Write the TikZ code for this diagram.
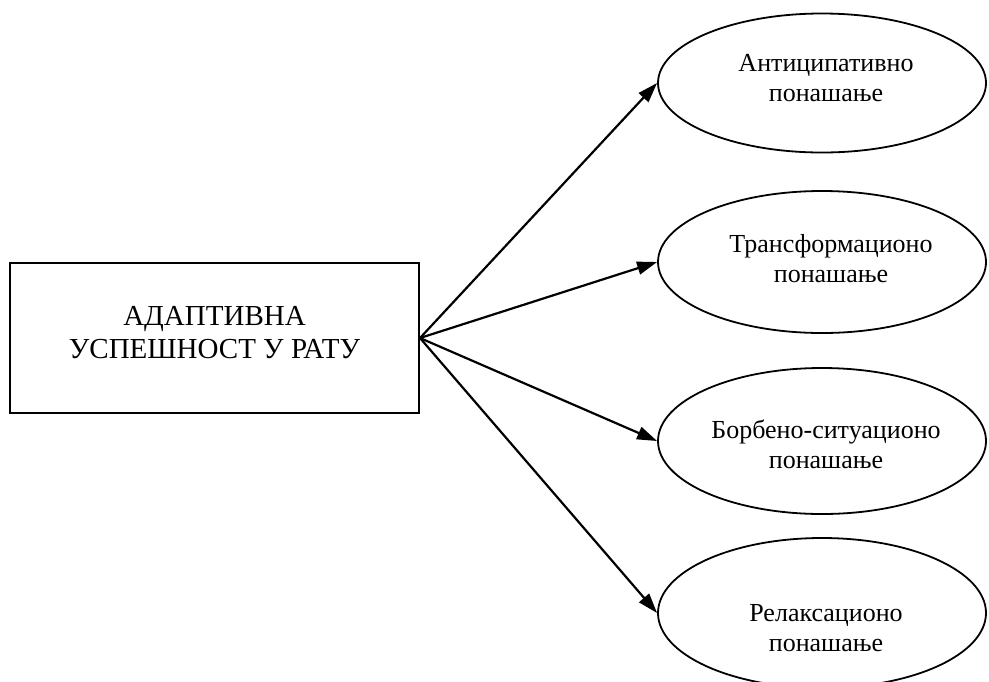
\documentclass[tikz,border=0pt]{standalone}
\usepackage{fontspec}
\setmainfont{Liberation Serif}
\usetikzlibrary{shapes.geometric,arrows.meta}
\begin{document}
\begin{tikzpicture}[x=0.5pt,y=-0.5pt,
    outcome/.style={draw,ellipse,line width=0.9pt,inner sep=0pt,minimum width=164pt},
    outtext/.style={align=center,font=\fontsize{13}{15}\selectfont},
    link/.style={line width=1.1pt,-{Triangle[length=10pt,width=6.5pt]}}]
  \useasboundingbox (0,0) rectangle (989,681);

  % central box
  \node[draw,line width=1pt,minimum width=204.5pt,minimum height=75pt,inner sep=0pt] (success) at (214.5,338) {};
  \node[align=center,font=\fontsize{14.5}{16.5}\selectfont] (successtext) at (214.5,333) {АДАПТИВНА\\УСПЕШНОСТ У РАТУ};

  % outcomes
  \node[outcome,minimum height=69.5pt] (anticip) at (822,83) {};
  \node[outcome,minimum height=71pt] (transform) at (822,262) {};
  \node[outcome,minimum height=73pt] (combat) at (822,441) {};
  \node[outcome,minimum height=75pt] (relax) at (822,613) {};

  \node[outtext] (anticiptext) at (826,78) {Антиципативно\\понашање};
  \node[outtext] (transformtext) at (831,259) {Трансформационо\\понашање};
  \node[outtext] (combattext) at (826,444) {Борбено-ситуационо\\понашање};
  \node[outtext] (relaxtext) at (826,628) {Релаксационо\\понашање};

  \draw[link] (success.east) -- (anticip.west);
  \draw[link] (success.east) -- (transform.west);
  \draw[link] (success.east) -- (combat.west);
  \draw[link] (success.east) -- (relax.west);
\end{tikzpicture}
\end{document}
